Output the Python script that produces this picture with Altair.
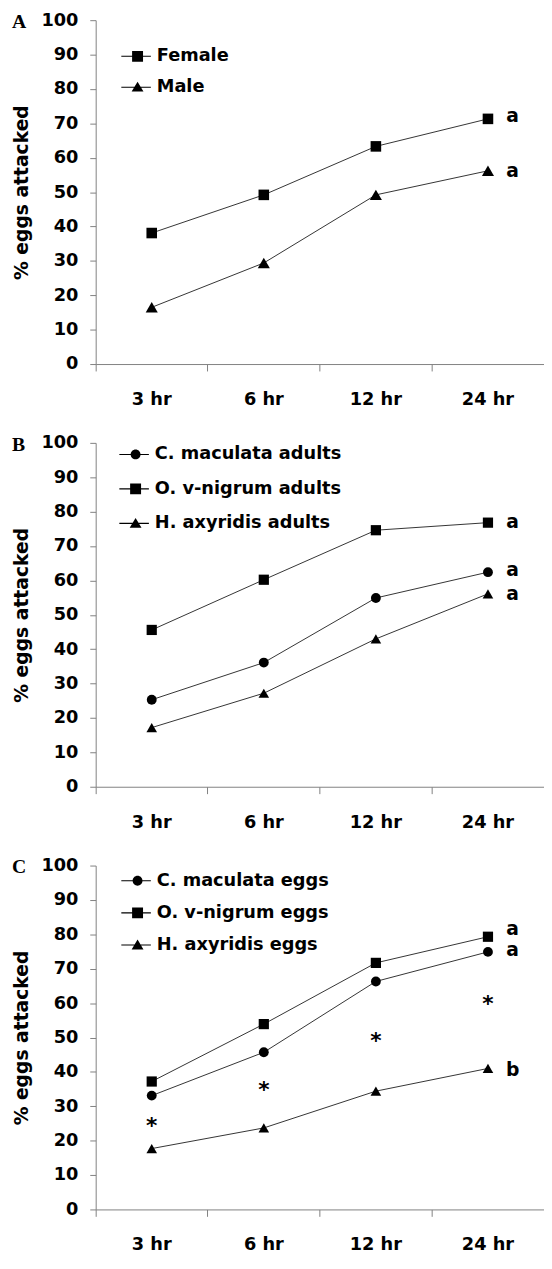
import altair as alt
import pandas as pd

times = ["3 hr", "6 hr", "12 hr", "24 hr"]

# Panel A
a_series = ["Female", "Male"]
a_female = [38.1, 49.2, 63.3, 71.3]
a_male = [16.5, 29.4, 49.2, 56.2]
a_letters = ["a", "a"]
a_letter_y = [72.0, 56.0]

# Panel B
b_series = ["C. maculata adults", "O. v-nigrum adults", "H. axyridis adults"]
b_cmac = [25.3, 36.1, 54.9, 62.4]
b_ovn = [45.6, 60.2, 74.6, 76.8]
b_hax = [17.2, 27.2, 43.0, 56.1]
b_letters = ["a", "a", "a"]
b_letter_y = [77.0, 63.0, 56.0]

# Panel C
c_series = ["C. maculata eggs", "O. v-nigrum eggs", "H. axyridis eggs"]
c_cmac = [33.1, 45.7, 66.3, 74.9]
c_ovn = [37.2, 53.9, 71.7, 79.3]
c_hax = [17.7, 23.7, 34.4, 41.0]
c_letters = ["a", "a", "b"]
c_letter_y = [81.5, 75.3, 40.5]
c_star_y = [25.6, 36.0, 50.3, 61.0]

FONT = "DejaVu Sans"
SERIF = "Liberation Serif"

LINE = "M-1,-0.035H1V0.035H-1Z"
SQUARE = LINE + "M-0.27,-0.37H0.47V0.37H-0.27Z"
CIRCLE = LINE + "M0.433,0A0.333,0.333,0,1,1,-0.233,0A0.333,0.333,0,1,1,0.433,0Z"
TRIANGLE = LINE + "M0.1,-0.37L0.5,0.3L-0.3,0.3Z"

shape_of = {"square": SQUARE, "circle": CIRCLE, "triangle-up": TRIANGLE}
size_of = {"square": 115, "circle": 100, "triangle-up": 150}


def panel(label, series, values, shapes, letters, letter_y, leg_x, leg_y, row_pad, stars=None):
    rows = []
    for s, vals in zip(series, values):
        for t, v in zip(times, vals):
            rows.append({"time": t, "series": s, "value": v})
    df = pd.DataFrame(rows)

    x = alt.X(
        "time:N",
        scale=alt.Scale(type="band", domain=times, paddingInner=0, paddingOuter=0),
        axis=alt.Axis(title=None, bandPosition=0, tickSize=7, labelPadding=20, labelAngle=0),
    )
    y = alt.Y(
        "value:Q",
        scale=alt.Scale(domain=[0, 100], nice=False),
        axis=alt.Axis(values=list(range(0, 101, 10)), title="% eggs attacked",
                      tickSize=6, labelPadding=12, titlePadding=10),
    )

    lines = alt.Chart(df).mark_line(color="#333333", strokeWidth=1).encode(
        x=x, y=y, detail="series:N"
    )
    points = alt.Chart(df).mark_point(filled=True, opacity=1, color="black").encode(
        x=x, y=y,
        shape=alt.Shape("series:N", scale=alt.Scale(domain=series, range=shapes), legend=None),
        size=alt.Size("series:N", scale=alt.Scale(domain=series, range=[size_of[s] for s in shapes]), legend=None),
    )
    legend_layer = alt.Chart(df).transform_filter("false").mark_point(
        filled=True, opacity=1, color="black"
    ).encode(
        x=x, y=y,
        shape=alt.Shape(
            "series:N",
            scale=alt.Scale(domain=series, range=[shape_of[s] for s in shapes]),
            legend=alt.Legend(
                title=None, orient="none", legendX=leg_x, legendY=leg_y,
                symbolSize=900, symbolFillColor="black", symbolOpacity=1,
                labelFont=FONT, labelFontSize=18, labelFontWeight="bold", labelColor="black",
                labelOffset=5, rowPadding=row_pad, padding=0, labelLimit=400,
            ),
        ),
    )
    ldf = pd.DataFrame({"time": ["24 hr"] * len(letters), "value": letter_y, "txt": letters})
    letter_layer = alt.Chart(ldf).mark_text(
        dx=25, align="center", baseline="middle", font=FONT, fontWeight="bold", fontSize=19, color="black"
    ).encode(x=x, y=y, text="txt:N")

    tag = alt.Chart(pd.DataFrame({"lab": [label]})).mark_text(
        align="left", baseline="middle", font=SERIF, fontWeight="bold", fontSize=20, color="black"
    ).encode(x=alt.value(-85), y=alt.value(2), text="lab:N")

    layers = [lines, points, legend_layer, letter_layer, tag]
    if stars is not None:
        sdf = pd.DataFrame({"time": times, "value": stars})
        star_layer = alt.Chart(sdf).mark_text(
            text="*", dy=5, align="center", baseline="middle", font=FONT, fontWeight="bold",
            fontSize=22, color="black"
        ).encode(x=x, y=y)
        layers.append(star_layer)

    return alt.layer(*layers).resolve_scale(shape="independent", size="independent").properties(
        width=455, height=349,
    )


pA = panel("A", a_series, [a_female, a_male], ["square", "triangle-up"],
           a_letters, a_letter_y, 25, 20.7, 6.3)
pB = panel("B", b_series, [b_cmac, b_ovn, b_hax], ["circle", "square", "triangle-up"],
           b_letters, b_letter_y, 23, -4.3, 10)
pC = panel("C", c_series, [c_cmac, c_ovn, c_hax], ["circle", "square", "triangle-up"],
           c_letters, c_letter_y, 25, -0.6, 7.6, stars=c_star_y)

chart = alt.vconcat(pA, pB, pC, spacing=80, bounds="flush").properties(
    padding={"left": 4, "top": -6, "right": 0, "bottom": 0}
).configure_view(stroke=None).configure_axis(
    labelFont=FONT, labelFontSize=18, labelFontWeight="bold", labelColor="black",
    titleFont=FONT, titleFontSize=19, titleFontWeight="bold", titleColor="black",
    domainColor="#808080", tickColor="#808080", grid=False, domainWidth=1, tickWidth=1,
)

chart.save("out.html", embed_options={"renderer": "svg", "actions": False})
